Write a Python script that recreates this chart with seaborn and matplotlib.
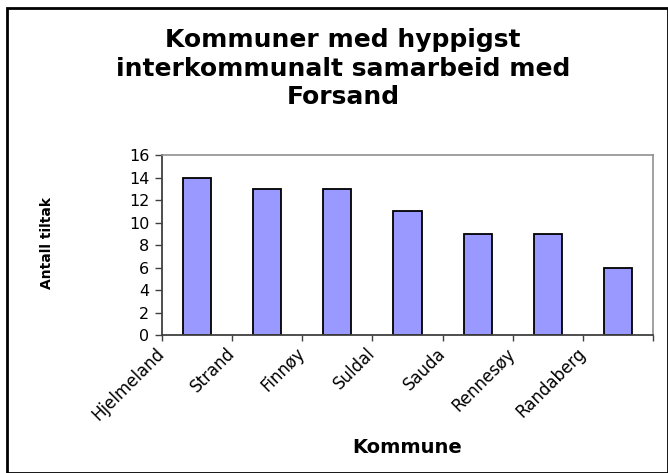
"""Bar chart: kommuner med hyppigst interkommunalt samarbeid med Forsand."""

import matplotlib

matplotlib.use("Agg")
import matplotlib.pyplot as plt
import matplotlib.transforms as mtransforms
import numpy as np
import seaborn as sns

kommuner = ["Hjelmeland", "Strand", "Finnøy", "Suldal", "Sauda", "Rennesøy", "Randaberg"]
antall_tiltak = [14, 13, 13, 11, 9, 9, 6]
y_ticks = list(range(0, 17, 2))

title = "Kommuner med hyppigst\ninterkommunalt samarbeid med\nForsand"
x_label = "Kommune"
y_label = "Antall tiltak"

sns.set_theme(style="white")
plt.rcParams["font.family"] = ["DejaVu Sans"]

W, H = 668, 473
fig = plt.figure(figsize=(W / 100, H / 100), dpi=100)
fig.patch.set_facecolor("white")

# plot area in pixel coordinates (left, top, right, bottom)
left, top, right, bottom = 162, 155, 653, 335
ax = fig.add_axes([left / W, 1 - bottom / H, (right - left) / W, (bottom - top) / H])

sns.barplot(x=kommuner, y=antall_tiltak, color="#9999FF", saturation=1,
            edgecolor="black", linewidth=1.3, width=0.4, ax=ax)

ax.set_ylim(0, 16)
ax.set_xlim(-0.5, len(kommuner) - 0.5)
ax.set_yticks(y_ticks)
ax.set_yticklabels([str(v) for v in y_ticks], fontsize=11.5, color="black")

# category ticks sit on the boundaries, labels end at the left boundary of each bar
bounds = np.arange(len(kommuner) + 1) - 0.5
ax.set_xticks(bounds)
ax.set_xticklabels(kommuner + [""], fontsize=12, color="black",
                   rotation=45, ha="right", va="center", rotation_mode="anchor")
shift = mtransforms.ScaledTranslation(7 / 100, 0, fig.dpi_scale_trans)
for lbl in ax.get_xticklabels():
    lbl.set_transform(lbl.get_transform() + shift)

ax.tick_params(axis="x", direction="out", length=4.5, width=1, color="#404040", pad=7, bottom=True)
ax.tick_params(axis="y", direction="out", length=5, width=1, color="#404040", pad=4, left=True)
ax.set_xlabel("")
ax.set_ylabel("")
ax.grid(False)

for side in ["left", "bottom"]:
    ax.spines[side].set_color("#404040")
    ax.spines[side].set_linewidth(1.3)
for side in ["top", "right"]:
    ax.spines[side].set_color("#909090")
    ax.spines[side].set_linewidth(1.2)

fig.text(343 / W, 1 - 28 / H, title, ha="center", va="top", fontsize=18,
         fontweight="bold", linespacing=1.25, color="black")
fig.text(407 / W, 1 - 447 / H, x_label, ha="center", va="center", fontsize=14,
         fontweight="bold", color="black")
fig.text(47 / W, 1 - 243 / H, y_label, ha="center", va="center", rotation=90,
         fontsize=10, fontweight="bold", color="black")

# outer chart frame
frame = plt.Rectangle((7 / W, 0), (W - 7) / W - 0.5 / W, 1 - 8 / H, transform=fig.transFigure,
                      fill=False, edgecolor="black", linewidth=2, clip_on=False)
fig.patches.append(frame)

fig.savefig("out.png", dpi=100, facecolor="white")
